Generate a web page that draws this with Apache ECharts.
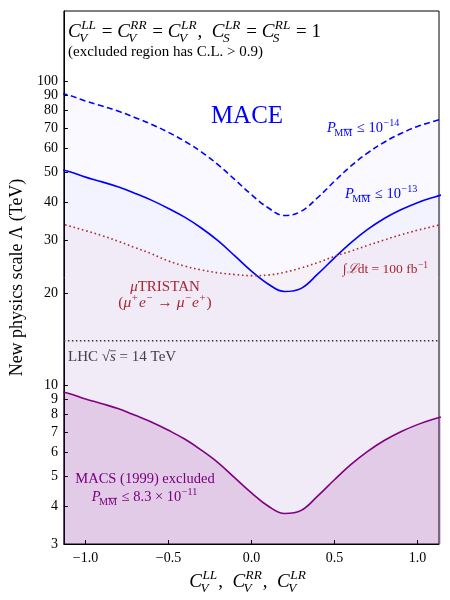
<!DOCTYPE html>
<html>
<head>
<meta charset="utf-8">
<script src="https://cdn.jsdelivr.net/npm/echarts@6/dist/echarts.min.js"></script>
<style>
  html, body { margin: 0; padding: 0; background: #fff; }
  #chart { width: 450px; height: 600px; }
</style>
</head>
<body>
<div id="chart"></div>
<script>
// x grid (C_V coefficient) and limits on Lambda in TeV
// (grid runs a little past the axis range so the curves reach the frame)
const xGrid = [-1.2, -1.1, -1.0, -0.9, -0.8, -0.7, -0.6, -0.5, -0.4, -0.3, -0.2, -0.1, 0.0,
    0.1, 0.2, 0.3, 0.4, 0.5, 0.6, 0.7, 0.8, 0.9, 1.0, 1.1, 1.2];
const mace14 = [92.5, 89.8, 86, 82.8, 79.5, 75.8, 72, 67.8, 63.3, 58.4, 53, 47.4, 42.3,
    38.3, 36.1, 37.3, 41.4, 46.8, 52.6, 58, 62.9, 67.2, 70.9, 73.8, 76.4];
const mace13 = [51.8, 50.4, 48.3, 46.6, 44.8, 42.7, 40.5, 38.1, 35.6, 32.8, 29.8, 26.6, 23.7,
    21.5, 20.3, 20.8, 23.2, 26.2, 29.4, 32.5, 35.3, 37.7, 39.8, 41.5, 43.0];
const muTristan = [34.6, 33.4, 32.2, 31.0, 29.7, 28.3, 27.0, 25.6, 24.6, 23.9, 23.4, 23.1, 22.9,
    23.0, 23.5, 24.3, 25.3, 26.5, 27.6, 28.8, 30.0, 31.2, 32.3, 33.3, 34.4];
const macs = [9.65, 9.38, 9.0, 8.68, 8.35, 7.95, 7.55, 7.1, 6.63, 6.1, 5.55, 4.95, 4.42,
    4.0, 3.78, 3.87, 4.32, 4.88, 5.48, 6.05, 6.57, 7.02, 7.41, 7.73, 8.0];
const lhcLimit = 14;

const xTicks = [-1.0, -0.5, 0.0, 0.5, 1.0];
const yTicks = [3, 4, 5, 6, 7, 8, 9, 10, 20, 30, 40, 50, 60, 70, 80, 90, 100];
const xRange = [-1.13, 1.13];
const yRange = [3, 170];

const SERIF = '"Liberation Serif", "DejaVu Serif", serif';
const BLUE = '#0000ff';
const RED = '#b22a2a';
const PURPLE = '#800080';

// --- small helper to typeset sub/superscripts with graphic texts ---
const ctx2d = document.createElement('canvas').getContext('2d');
const fontOf = (size, it) => (it ? 'italic ' : '') + size + 'px ' + SERIF;
const widthOf = (str, size, it) => { ctx2d.font = fontOf(size, it); return ctx2d.measureText(str).width; };

function mathLabel(tokens, x, baseY, size, color, align) {
    const parts = [];
    let cx = 0;
    const put = (str, px, by, s, it) => {
        parts.push({
            type: 'text', x: px, y: by - 0.34 * s,
            style: { text: str, font: fontOf(s, it), fill: color, align: 'left', verticalAlign: 'middle' }
        });
    };
    const bar = (x1, x2, y) => {
        parts.push({ type: 'line', shape: { x1: x1, y1: y, x2: x2, y2: y }, style: { stroke: color, lineWidth: 0.8 } });
    };
    tokens.forEach(tk => {
        const w = widthOf(tk.t, size, tk.it);
        put(tk.t, cx, 0, size, tk.it);
        if (tk.over) bar(cx, cx + w, -0.75 * size);
        let adv = w;
        const ss = size * 0.7;
        if (tk.sup) {
            const sw = widthOf(tk.sup, ss, tk.supIt);
            put(tk.sup, cx + w + 0.5, -0.4 * size, ss, tk.supIt);
            adv = Math.max(adv, w + 0.5 + sw);
        }
        if (tk.sub) {
            const bw = widthOf(tk.sub, ss, tk.subIt);
            const sx = cx + w - (tk.it ? 1.5 : 0);
            put(tk.sub, sx, 0.25 * size, ss, tk.subIt);
            if (tk.subBar) {
                const mw = widthOf('M', ss, false);
                bar(sx + bw - mw, sx + bw, 0.25 * size - 0.72 * ss);
            }
            adv = Math.max(adv, sx - cx + bw);
        }
        cx += adv + (tk.sup || tk.sub ? 1 : 0);
    });
    const shift = align === 'center' ? -cx / 2 : 0;
    return { type: 'group', x: x + shift, y: baseY, silent: true, children: parts };
}

const C = (sup, sub) => ({ t: 'C', it: true, sup: sup, supIt: true, sub: sub, subIt: true });
const T = (t, it) => ({ t: t, it: !!it });
const P = { t: 'P', it: true, sub: 'MM', subBar: true };

const toPairs = arr => xGrid.map((x, i) => [x, arr[i]]);

const chart = echarts.init(document.getElementById('chart'), null, { renderer: 'canvas' });

const option = {
    animation: false,
    backgroundColor: '#fff',
    textStyle: { fontFamily: SERIF },
    grid: { left: 59, right: 11, top: 11, bottom: 56, show: true, borderColor: '#000', borderWidth: 1, backgroundColor: '#fff' },
    xAxis: {
        type: 'value', min: xRange[0], max: xRange[1],
        axisLine: { onZero: false, lineStyle: { color: '#000', width: 1 } },
        axisTick: { inside: true, length: 4, customValues: xTicks, lineStyle: { color: '#000' } },
        axisLabel: {
            customValues: xTicks, color: '#000', fontSize: 14, fontFamily: SERIF, margin: 7,
            formatter: v => (v < 0 ? '\u2212' : '') + Math.abs(v).toFixed(1)
        },
        splitLine: { show: false }
    },
    yAxis: [
        {
            // real log scale the curves are drawn on
            type: 'log', logBase: 10, min: yRange[0], max: yRange[1], position: 'left',
            axisLine: { show: true, onZero: false, lineStyle: { color: '#000' } },
            axisTick: { show: false }, axisLabel: { show: false }, splitLine: { show: false }, minorTick: { show: false }
        },
        {
            // same extent in log10 units, only carries the 3..9, 10..100 ticks and labels
            type: 'value', min: Math.log10(yRange[0]), max: Math.log10(yRange[1]), position: 'left',
            axisLine: { show: false, onZero: false },
            axisTick: { inside: true, length: 4, customValues: yTicks.map(Math.log10), lineStyle: { color: '#000' } },
            axisLabel: {
                customValues: yTicks.map(Math.log10), color: '#000', fontSize: 14, fontFamily: SERIF, margin: 6,
                formatter: v => String(Math.round(Math.pow(10, v)))
            },
            splitLine: { show: false },
            name: 'New physics scale \u039b (TeV)', nameLocation: 'middle', nameGap: 35,
            nameTextStyle: { fontSize: 18, fontFamily: SERIF, color: '#000' }
        }
    ],
    series: [
        {
            name: 'MACE 1e-14', type: 'line', yAxisIndex: 0, data: toPairs(mace14),
            smooth: 0.4, showSymbol: false, symbol: 'none',
            lineStyle: { color: BLUE, width: 1.6, type: [6, 3.5] },
            areaStyle: { color: 'rgba(0,0,255,0.03)', origin: 'start' }
        },
        {
            name: 'MACE 1e-13', type: 'line', yAxisIndex: 0, data: toPairs(mace13),
            smooth: 0.4, showSymbol: false, symbol: 'none',
            lineStyle: { color: BLUE, width: 1.6 },
            areaStyle: { color: 'rgba(0,0,255,0.03)', origin: 'start' }
        },
        {
            name: 'muTRISTAN', type: 'line', yAxisIndex: 0, data: toPairs(muTristan),
            smooth: 0.4, showSymbol: false, symbol: 'none',
            lineStyle: { color: RED, width: 1.6, type: [1.6, 2.8] },
            areaStyle: { color: 'rgba(178,34,34,0.05)', origin: 'start' }
        },
        {
            name: 'MACS', type: 'line', yAxisIndex: 0, data: toPairs(macs),
            smooth: 0.4, showSymbol: false, symbol: 'none',
            lineStyle: { color: PURPLE, width: 1.6 },
            areaStyle: { color: 'rgba(128,0,128,0.19)', origin: 'start' }
        },
        {
            name: 'LHC', type: 'line', yAxisIndex: 0, data: [[xRange[0], lhcLimit], [xRange[1], lhcLimit]],
            showSymbol: false, symbol: 'none',
            lineStyle: { color: '#333', width: 1.5, type: [1.5, 2.5] }
        }
    ],
    graphic: [
        mathLabel([C('LL', 'V'), T(' = '), C('RR', 'V'), T(' = '), C('LR', 'V'), T(',  '), C('LR', 'S'), T(' = '), C('RL', 'S'), T(' = 1')],
            68, 38, 19, '#000', 'left'),
        mathLabel([T('(excluded region has C.L. > 0.9)')], 68, 57, 15, '#000', 'left'),
        mathLabel([T('MACE')], 247, 125, 25, BLUE, 'center'),
        mathLabel([P, T(' \u2264 '), { t: '10', sup: '\u221214' }], 327, 133, 14.5, BLUE, 'left'),
        mathLabel([P, T(' \u2264 '), { t: '10', sup: '\u221213' }], 345, 199, 14.5, BLUE, 'left'),
        mathLabel([T('\u222b'), T('\u2112', true), T('dt = 100 fb'), { t: '', sup: '\u22121' }], 343, 274, 13.5, RED, 'left'),
        mathLabel([T('\u03bc', true), T('TRISTAN')], 165, 292, 15, RED, 'center'),
        mathLabel([T('('), { t: '\u03bc', it: true, sup: '+' }, { t: 'e', it: true, sup: '\u2212' }, T(' \u2192 '),
            { t: '\u03bc', it: true, sup: '\u2212' }, { t: 'e', it: true, sup: '+' }, T(')')], 165, 308, 15.5, RED, 'center'),
        mathLabel([T('LHC '), T('\u221a'), { t: 's', it: true, over: true }, T(' = 14 TeV')], 68, 362, 15, '#444', 'left'),
        mathLabel([T('MACS (1999) excluded')], 145, 484, 14.5, PURPLE, 'center'),
        mathLabel([P, T(' \u2264 8.3 \u00d7 '), { t: '10', sup: '\u221211' }], 145, 502, 14.5, PURPLE, 'center'),
        mathLabel([C('LL', 'V'), T(',  '), C('RR', 'V'), T(',  '), C('LR', 'V')], 248, 588, 19, '#000', 'center')
    ]
};

chart.setOption(option);
</script>
</body>
</html>
